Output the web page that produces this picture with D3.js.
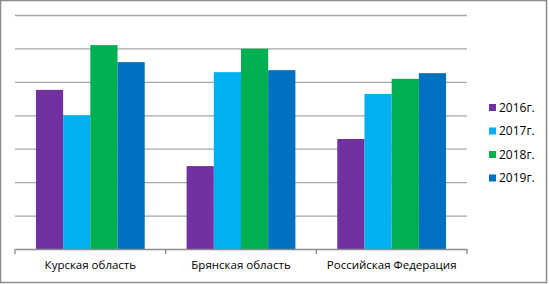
<!DOCTYPE html>
<html>
<head>
<meta charset="utf-8">
<script src="https://cdn.jsdelivr.net/npm/d3@7"></script>
<style>
  body { margin: 0; background: #fff; }
  text { font-family: "Open Sans", sans-serif; fill: #000; }
</style>
</head>
<body>
<div id="chart"></div>
<script>
/* Grouped bar chart, 4 years x 3 regions */

const width = 549, height = 284,
    margin = ({ top: 15, right: 82, bottom: 35, left: 15 });

const categories = ["Курская область", "Брянская область", "Российская Федерация"];
const years = ["2016г.", "2017г.", "2018г.", "2019г."];
const v2016 = [4.76, 2.48, 3.29];
const v2017 = [4.0, 5.29, 4.64];
const v2018 = [6.1, 5.99, 5.09];
const v2019 = [5.59, 5.35, 5.26];
const colors = ["#7030a0", "#00b0f0", "#00b050", "#0070c0"];
const yTicks = [0, 1, 2, 3, 4, 5, 6, 7];

const series = [v2016, v2017, v2018, v2019];
const data = categories.map((c, i) => ({ cat: c, vals: series.map(s => s[i]) }));

const svg = d3.select("#chart")
    .append("svg")
    .attr("width", width)
    .attr("height", height);

svg.append("rect")                                           // outer frame
    .attr("x", 0.5).attr("y", 0.5)
    .attr("width", 546).attr("height", 282)
    .attr("fill", "#fff")
    .attr("stroke", "#8c8c8c")
    .attr("stroke-width", 1.5);

let x = d3.scaleBand()
    .domain(categories)
    .range([margin.left, 467]);

let xIn = d3.scaleBand()
    .domain(years)
    .range([0, x.bandwidth()])
    .paddingOuter(0.77)
    .paddingInner(0);

let y = d3.scaleLinear()
    .domain([0, 7])
    .range([249, margin.top]);

svg.append("g")                                              // gridlines
  .attr("transform", `translate(${margin.left},0)`)
  .call(d3.axisLeft(y).tickValues(yTicks.slice(1)).tickSize(-(467 - margin.left)).tickFormat(""))
  .call(g => g.select(".domain").remove())
  .call(g => g.selectAll("line").attr("stroke", "#a6a6a6").attr("stroke-width", 1.3));

svg.append("g")
  .selectAll("g")
  .data(data)
  .join("g")
    .attr("transform", d => `translate(${x(d.cat)},0)`)
  .selectAll("rect")
  .data(d => d.vals.map((v, i) => ({ year: years[i], v: v, i: i })))
  .join("rect")
    .attr("x", d => xIn(d.year))
    .attr("y", d => y(d.v))
    .attr("width", xIn.bandwidth())
    .attr("height", d => y(0) - y(d.v))
    .attr("fill", d => colors[d.i]);

svg.append("g")                                              // x axis
  .attr("transform", `translate(0,${y(0)})`)
  .call(d3.axisBottom(x).tickSize(0).tickPadding(12))
  .call(g => g.select(".domain").attr("stroke", "#8c8c8c").attr("stroke-width", 1.3))
  .call(g => g.selectAll("text").attr("font-size", 11.5).attr("font-family", "Open Sans"));

svg.append("g")                                              // category separators
  .selectAll("line")
  .data(categories.map(c => x(c)).concat([x.range()[1]]))
  .join("line")
    .attr("x1", d => d).attr("x2", d => d)
    .attr("y1", y(0)).attr("y2", y(0) + 5)
    .attr("stroke", "#8c8c8c")
    .attr("stroke-width", 1.3);

const legend = svg.append("g")
  .selectAll("g")
  .data(years)
  .join("g")
    .attr("transform", (d, i) => `translate(489,${107.5 + i * 23.5})`);

legend.append("rect")
    .attr("x", 0).attr("y", -3.5)
    .attr("width", 7).attr("height", 7)
    .attr("fill", (d, i) => colors[i]);

legend.append("text")
    .attr("x", 10)
    .attr("dy", "0.36em")
    .attr("font-size", 12)
    .text(d => d);
</script>
</body>
</html>
